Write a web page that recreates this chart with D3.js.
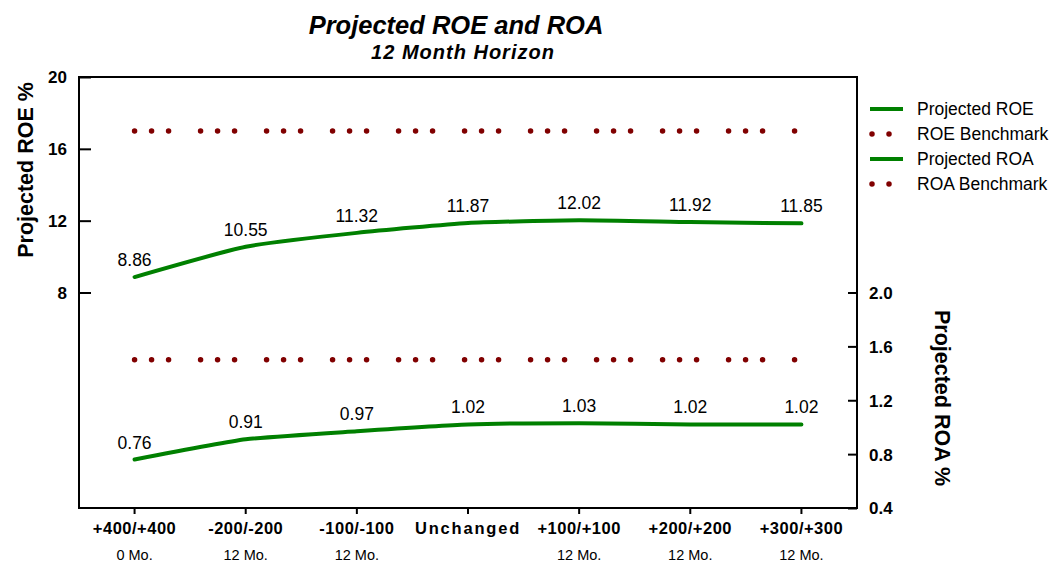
<!DOCTYPE html>
<html>
<head>
<meta charset="utf-8">
<script src="https://cdn.jsdelivr.net/npm/d3@7"></script>
<style>
  html, body { margin: 0; padding: 0; background: #fff; }
  svg { display: block; font-family: "Liberation Sans", Arial, sans-serif; }
</style>
</head>
<body>
<svg id="chart" width="1059" height="562"></svg>
<script>
// Rate scenarios along the x axis, with their horizon notes
const scenarios = ["+400/+400", "-200/-200", "-100/-100", "Unchanged", "+100/+100", "+200/+200", "+300/+300"];
const horizons  = ["0 Mo.", "12 Mo.", "12 Mo.", "", "12 Mo.", "12 Mo.", "12 Mo."];

// Projected returns (%)
const projectedROE = [8.86, 10.55, 11.32, 11.87, 12.02, 11.92, 11.85];
const projectedROA = [0.76, 0.91, 0.97, 1.02, 1.03, 1.02, 1.02];

// Benchmarks (%)
const roeBenchmark = [17, 17, 17, 17, 17, 17, 17];
const roaBenchmark = [1.5, 1.5, 1.5, 1.5, 1.5, 1.5, 1.5];

// Axis ticks
const roeTicks = [8, 12, 16, 20];
const roaTicks = [0.4, 0.8, 1.2, 1.6, 2.0];

const legendItems = [
  { label: "Projected ROE", kind: "line" },
  { label: "ROE Benchmark", kind: "dots" },
  { label: "Projected ROA", kind: "line" },
  { label: "ROA Benchmark", kind: "dots" }
];

const GREEN = "#008000";
const MAROON = "#800000";

const svg = d3.select("#chart");
const plot = { left: 79, right: 857, top: 77, bottom: 508 };

const x = d3.scaleBand().domain(scenarios).range([plot.left, plot.right]);
const cx = d => x(d) + x.bandwidth() / 2;
const yROE = d3.scaleLinear().domain([-4, 20]).range([plot.bottom, plot.top]);
const yROA = d3.scaleLinear().domain([0.4, 3.6]).range([plot.bottom, plot.top]);

// Titles
svg.append("text")
  .attr("x", 456).attr("y", 34)
  .attr("text-anchor", "middle")
  .style("font-weight", "bold").style("font-style", "italic").style("font-size", "25.5px")
  .text("Projected ROE and ROA");
svg.append("text")
  .attr("x", 463).attr("y", 59)
  .attr("text-anchor", "middle")
  .style("font-weight", "bold").style("font-style", "italic").style("font-size", "20px")
  .style("letter-spacing", "1px")
  .text("12 Month Horizon");

// Axes
const leftAxis = svg.append("g")
  .attr("transform", `translate(${plot.left},0)`)
  .call(d3.axisLeft(yROE).tickValues(roeTicks).tickFormat(d3.format("d"))
        .tickSizeInner(-12).tickSizeOuter(0).tickPadding(12));
const rightAxis = svg.append("g")
  .attr("transform", `translate(${plot.right},0)`)
  .call(d3.axisRight(yROA).tickValues(roaTicks).tickFormat(d3.format(".1f"))
        .tickSizeInner(-9).tickSizeOuter(0).tickPadding(12));
const bottomAxis = svg.append("g")
  .attr("transform", `translate(0,${plot.bottom})`)
  .call(d3.axisBottom(x).tickSizeInner(6).tickSizeOuter(0).tickPadding(10));

[leftAxis, rightAxis, bottomAxis].forEach(g => {
  g.select(".domain").remove();
  g.selectAll(".tick line").attr("stroke", "#000").attr("stroke-width", 2);
  g.selectAll(".tick text")
    .attr("fill", "#000")
    .style("font-family", "'Liberation Sans', Arial, sans-serif")
    .style("font-weight", "bold");
});
leftAxis.selectAll(".tick text").style("font-size", "17px").attr("dy", "0.35em");
rightAxis.selectAll(".tick text").style("font-size", "17px").attr("dy", "0.35em");
bottomAxis.selectAll(".tick text")
  .style("font-size", "16.5px")
  .attr("y", 26).attr("dy", 0)
  .style("letter-spacing", d => d === "Unchanged" ? "1.8px" : "0.5px");

// Horizon notes below scenario labels
svg.append("g").selectAll("text")
  .data(scenarios)
  .join("text")
  .attr("x", d => cx(d))
  .attr("y", 560)
  .attr("text-anchor", "middle")
  .style("font-size", "14.5px")
  .text((d, i) => horizons[i]);

// Plot frame
svg.append("rect")
  .attr("x", plot.left).attr("y", plot.top)
  .attr("width", plot.right - plot.left).attr("height", plot.bottom - plot.top)
  .attr("fill", "none").attr("stroke", "#000").attr("stroke-width", 2);

// Axis titles
svg.append("text")
  .attr("transform", `translate(33,170) rotate(-90)`)
  .attr("text-anchor", "middle")
  .style("font-weight", "bold").style("font-size", "21.5px")
  .text("Projected ROE %");
svg.append("text")
  .attr("transform", `translate(935,398) rotate(90)`)
  .attr("text-anchor", "middle")
  .style("font-weight", "bold").style("font-size", "21.5px")
  .text("Projected ROA %");

// Benchmark dotted lines
const dotPattern = "0 17 0 17 0 32";
function benchLine(values, yScale) {
  const line = d3.line().x((d, i) => cx(scenarios[i])).y(d => yScale(d));
  svg.append("path")
    .datum(values)
    .attr("d", line)
    .attr("fill", "none")
    .attr("stroke", MAROON)
    .attr("stroke-width", 5.5)
    .attr("stroke-linecap", "round")
    .attr("stroke-dasharray", dotPattern);
}
benchLine(roeBenchmark, yROE);
benchLine(roaBenchmark, yROA);

// Projected series with value labels
function series(values, yScale, fmt) {
  const line = d3.line()
    .x((d, i) => cx(scenarios[i]))
    .y(d => yScale(d))
    .curve(d3.curveCardinal.tension(0.5));
  svg.append("path")
    .datum(values)
    .attr("d", line)
    .attr("fill", "none")
    .attr("stroke", GREEN)
    .attr("stroke-width", 4)
    .attr("stroke-linecap", "round");
  svg.append("g").selectAll("text")
    .data(values)
    .join("text")
    .attr("x", (d, i) => cx(scenarios[i]))
    .attr("y", d => yScale(d) - 11)
    .attr("text-anchor", "middle")
    .style("font-size", "17.5px")
    .text(d => fmt(d));
}
series(projectedROE, yROE, d3.format(".2f"));
series(projectedROA, yROA, d3.format(".2f"));

// Legend
const legend = svg.append("g").attr("transform", "translate(870,109)");
const rows = legend.selectAll("g")
  .data(legendItems)
  .join("g")
  .attr("transform", (d, i) => `translate(0,${i * 25})`);
rows.filter(d => d.kind === "line").append("line")
  .attr("x1", 0).attr("x2", 33)
  .attr("stroke", GREEN).attr("stroke-width", 4);
rows.filter(d => d.kind === "dots").append("line")
  .attr("x1", 2).attr("x2", 20)
  .attr("stroke", MAROON).attr("stroke-width", 5.5)
  .attr("stroke-linecap", "round").attr("stroke-dasharray", "0 17");
rows.append("text")
  .attr("x", 47).attr("y", 6)
  .style("font-size", "17.5px")
  .text(d => d.label);
</script>
</body>
</html>
